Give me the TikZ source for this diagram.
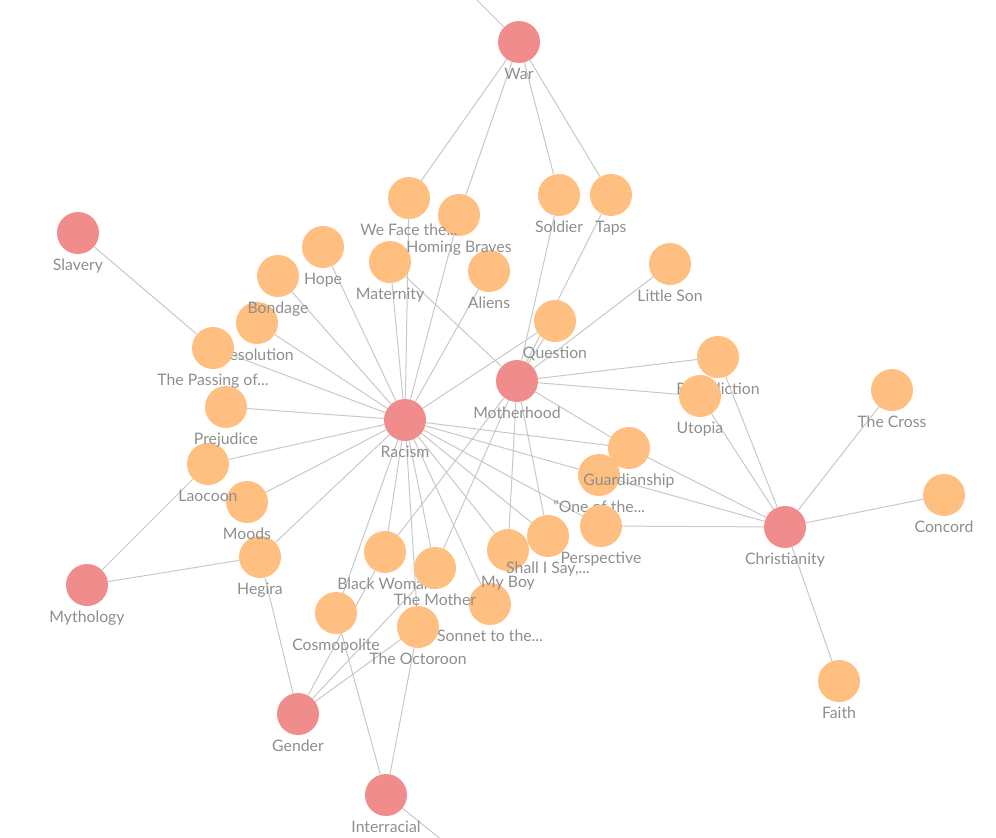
\documentclass[tikz,border=0pt]{standalone}
\usepackage{fontspec}
\setmainfont{Lato}
\usepackage{tikz}
\usetikzlibrary{backgrounds}
\definecolor{themered}{HTML}{F08C8C}
\definecolor{poemorange}{HTML}{FFBF80}
\definecolor{labelgray}{HTML}{8E8E8E}
\definecolor{linkgray}{HTML}{C8C8C8}

\begin{document}
\begin{tikzpicture}[x=1pt, y=-1pt,
        theme/.style={circle, fill=themered, minimum size=42pt, inner sep=0pt},
        poem/.style={circle, fill=poemorange, minimum size=42pt, inner sep=0pt},
        lbl/.style={text=labelgray, font=\fontsize{15.8}{17}\selectfont, inner sep=0pt, text height=11.5pt, text depth=3.5pt},
        every label/.style={lbl},
        label distance=5pt,
        link/.style={draw=linkgray, line width=1pt}
    ]
    \useasboundingbox (0,0) rectangle (996,838);
    % Temas e poemas (a ordem decide o que fica por cima)
    \node[theme, label=below:War] (war) at (519,42) {};
    \node[theme, label=below:Slavery] (slavery) at (78,233) {};
    \node[poem, label=below:Soldier] (soldier) at (559,195) {};
    \node[poem, label=below:Taps] (taps) at (611,195) {};
    \node[poem, label=below:Hope] (hope) at (323,247) {};
    \node[poem, label=below:Maternity] (maternity) at (390,262) {};
    \node[poem, label=below:Aliens] (aliens) at (489,271) {};
    \node[poem, label=below:Homing Braves] (homing) at (459,215) {};
    \node[poem, label=below:We Face the...] (weface) at (409,198) {};
    \node[poem, label=below:Little Son] (littleson) at (670,264) {};
    \node[poem, label=below:Resolution] (resolution) at (257,323) {};
    \node[poem, label=below:Bondage] (bondage) at (278,276) {};
    \node[poem, label=below:The Passing of...] (passing) at (213,348) {};
    \node[poem, label=below:Question] (question) at (555,321) {};
    \node[theme, label=below:Motherhood] (motherhood) at (517,381) {};
    \node[poem, label=below:Benediction] (benediction) at (718,357) {};
    \node[poem, label=below:Utopia] (utopia) at (700,396) {};
    \node[poem, label=below:The Cross] (cross) at (892,390) {};
    \node[theme, label=below:Racism] (racism) at (405,420) {};
    \node[poem, label=below:Hegira] (hegira) at (260,557) {};
    \node[poem, label=below:Moods] (moods) at (247,502) {};
    \node[poem, label=below:Laocoon] (laocoon) at (208,464) {};
    \node[poem, label=below:Prejudice] (prejudice) at (226,407) {};
    \node[poem, label=below:Concord] (concord) at (944,495) {};
    \node[theme, label=below:Christianity] (christianity) at (785,527) {};
    \node[poem, label=below:"One of the...] (oneof) at (599,475) {};
    \node[poem, label=below:Guardianship] (guardianship) at (629,448) {};
    \node[poem, label=below:Perspective] (perspective) at (601,526) {};
    \node[poem, label=below:Black Woman] (blackwoman) at (385,552) {};
    \node[poem, label=below:Sonnet to the...] (sonnet) at (490,604) {};
    \node[poem, label=below:The Mother] (themother) at (435,568) {};
    \node[poem, label=below:My Boy] (myboy) at (508,550) {};
    \node[poem, label=below:{Shall I Say,...}] (shallisay) at (548,536) {};
    \node[poem, label=below:Cosmopolite] (cosmopolite) at (336,613) {};
    \node[poem, label=below:The Octoroon] (octoroon) at (418,627) {};
    \node[theme, label=below:Mythology] (mythology) at (87,585) {};
    \node[poem, label=below:Faith] (faith) at (839,681) {};
    \node[theme, label=below:Gender] (gender) at (298,714) {};
    \node[theme, label=below:Interracial] (interracial) at (386,795) {};
    \coordinate (warout) at (470,-7);
    \coordinate (interout) at (448,845);
    % Ligacoes
    \begin{scope}[on background layer]
        \draw[link] (war) edge (warout) edge (weface) edge (homing) edge (soldier) edge (taps);
        \draw[link] (slavery) edge (passing);
        \draw[link] (mythology) edge (laocoon) edge (hegira);
        \draw[link] (racism) edge (hope) edge (bondage) edge (resolution) edge (passing)
            edge (prejudice) edge (laocoon) edge (moods) edge (hegira) edge (maternity)
            edge (weface) edge (homing) edge (aliens) edge (question) edge (guardianship)
            edge (oneof) edge (perspective) edge (shallisay) edge (myboy) edge (sonnet)
            edge (themother) edge (octoroon) edge (blackwoman) edge (cosmopolite);
        \draw[link] (motherhood) edge (maternity) edge (soldier) edge (taps) edge (question)
            edge (littleson) edge (benediction) edge (utopia) edge (guardianship)
            edge (blackwoman) edge (themother) edge (myboy) edge (shallisay);
        \draw[link] (christianity) edge (benediction) edge (utopia) edge (cross) edge (concord)
            edge (faith) edge (guardianship) edge (oneof) edge (perspective);
        \draw[link] (gender) edge (hegira) edge (blackwoman) edge (themother) edge (octoroon);
        \draw[link] (interracial) edge (cosmopolite) edge (octoroon) edge (interout);
    \end{scope}
\end{tikzpicture}
\end{document}
